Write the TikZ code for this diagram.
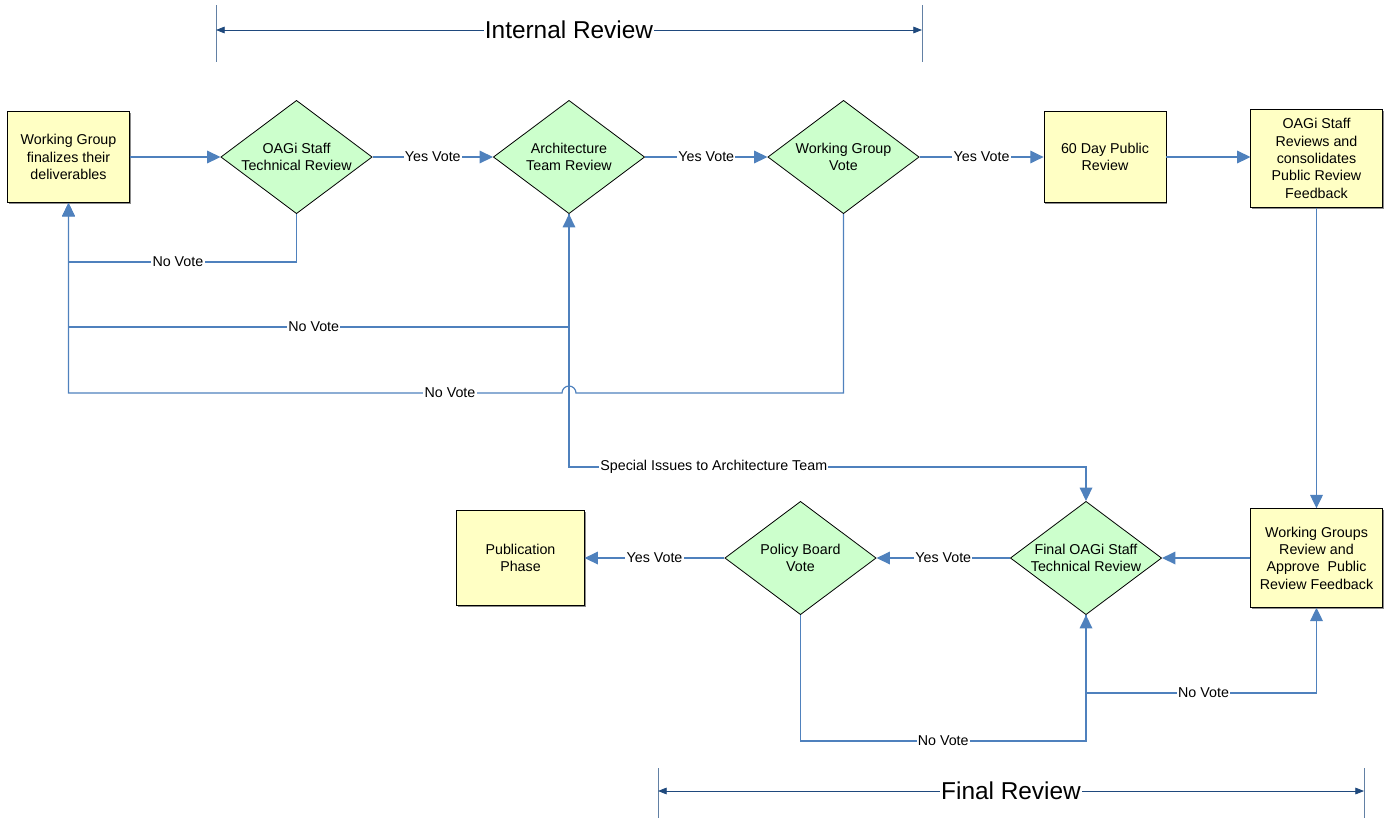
\documentclass[tikz,border=0pt]{standalone}
\usepackage{fontspec}
\setmainfont{Liberation Sans}
\usetikzlibrary{arrows.meta,shapes.geometric,shadows}
\definecolor{conncol}{HTML}{4F81BD}
\definecolor{brkcol}{HTML}{1F497D}
\definecolor{boxfill}{HTML}{FFFFC4}
\definecolor{diafill}{HTML}{CCFFCC}
\tikzset{
  every node/.style={font=\fontsize{10.7}{13}\selectfont},
  box/.style={draw=black, line width=0.6pt, fill=boxfill, rectangle, inner sep=0pt, align=center,
              drop shadow={shadow xshift=1.1pt, shadow yshift=-1.1pt, fill=black!45, opacity=1}},
  dia/.style={draw=black, line width=0.6pt, fill=diafill, diamond, inner sep=0pt,
              minimum width=113.5pt, minimum height=85pt},
  flow/.style={draw=conncol, line width=0.9pt, -{Triangle[length=10pt,width=9.5pt]}},
  twoway/.style={draw=conncol, line width=0.9pt, {Triangle[length=10pt,width=9.5pt]}-{Triangle[length=10pt,width=9.5pt]}},
  lbl/.style={fill=white, inner sep=1pt, text=black},
  brk/.style={draw=brkcol, line width=0.6pt, {Triangle[length=6.5pt,width=5pt]}-{Triangle[length=6.5pt,width=5pt]}},
  tick/.style={draw=brkcol!70!white, line width=0.6pt},
  title/.style={fill=white, inner sep=1pt, font=\fontsize{18.3}{22}\selectfont}
}
\begin{document}
\begin{tikzpicture}[x=0.75pt,y=-0.75pt]
\useasboundingbox (0,0) rectangle (1385,819);

% brackets
\coordinate (itl) at (216,5);   \coordinate (ibl) at (216,62);
\coordinate (itr) at (922,5);   \coordinate (ibr) at (922,62);
\coordinate (ial) at (216,30);  \coordinate (iar) at (922,30);
\draw[tick] (itl) -- (ibl);
\draw[tick] (itr) -- (ibr);
\draw[brk] (ial) -- node[title]{Internal Review} (iar);

\coordinate (ftl) at (658,768); \coordinate (fbl) at (658,818);
\coordinate (ftr) at (1364,768); \coordinate (fbr) at (1364,818);
\coordinate (fal) at (658,791); \coordinate (far) at (1364,791);
\draw[tick] (ftl) -- (fbl);
\draw[tick] (ftr) -- (fbr);
\draw[brk] (fal) -- node[title]{Final Review} (far);

% nodes
\node[box, minimum width=91pt, minimum height=68.5pt] (wg) at (68.5,157) {Working Group\\finalizes their\\deliverables};
\node[dia, label={[align=center]center:OAGi Staff\\Technical Review}] (oagi) at (296.5,157) {};
\node[dia, label={[align=center]center:Architecture\\Team Review}] (arch) at (569,157) {};
\node[dia, label={[align=center]center:Working Group\\Vote}] (wgv) at (843.5,157) {};
\node[box, minimum width=91.5pt, minimum height=68.5pt] (d60) at (1105,157) {60 Day Public\\Review};
\node[box, minimum width=98.5pt, minimum height=73pt] (orev) at (1316.5,158.5) {OAGi Staff\\Reviews and\\consolidates\\Public Review\\Feedback};

\node[box, minimum width=98.5pt, minimum height=74pt] (wgr) at (1316.5,558) {Working Groups\\Review and\\Approve~ Public\\Review Feedback};
\node[dia, label={[align=center]center:Final OAGi Staff\\Technical Review}] (final) at (1086,558) {};
\node[dia, label={[align=center]center:Policy Board\\Vote}] (policy) at (800.5,558) {};
\node[box, minimum width=95.5pt, minimum height=71.5pt] (pub) at (520.5,558) {Publication\\Phase};

% main flow
\draw[flow] (wg.east) -- (oagi.west);
\draw[flow] (oagi.east) -- node[lbl]{Yes Vote} (arch.west);
\draw[flow] (arch.east) -- node[lbl]{Yes Vote} (wgv.west);
\draw[flow] (wgv.east) -- node[lbl]{Yes Vote} (d60.west);
\draw[flow] (d60.east) -- (d60.east -| orev.west);
\draw[flow] (orev.south) -- (wgr.north);
\draw[flow] (wgr.west) -- (final.east);
\draw[flow] (final.west) -- node[lbl]{Yes Vote} (policy.east);
\draw[flow] (policy.west) -- node[lbl]{Yes Vote} (pub.east);

% no-vote loops
\draw[flow] (oagi.south) -- (296.5,262) -- node[lbl,pos=0.52]{No Vote} (68.5,262) -- (wg.south);
\draw[flow] (arch.south) -- (569,327) -- node[lbl,pos=0.51]{No Vote} (68.5,327) -- (wg.south);
\draw[flow] (wgv.south) -- (843.5,393) -- (576,393) arc[start angle=0,end angle=180,radius=5.25pt]
   -- node[lbl,pos=0.227]{No Vote} (68.5,393) -- (wg.south);
\draw[twoway] (arch.south) -- (569,467) -- node[lbl,pos=0.28]{Special Issues to Architecture Team} (1086,467) -- (final.north);
\draw[flow] (policy.south) -- (800.5,741) -- node[lbl]{No Vote} (1086,741) -- (final.south);
\draw[flow] (final.south) -- (1086,693) -- node[lbl,pos=0.51]{No Vote} (1316.5,693) -- (wgr.south);
\end{tikzpicture}
\end{document}
